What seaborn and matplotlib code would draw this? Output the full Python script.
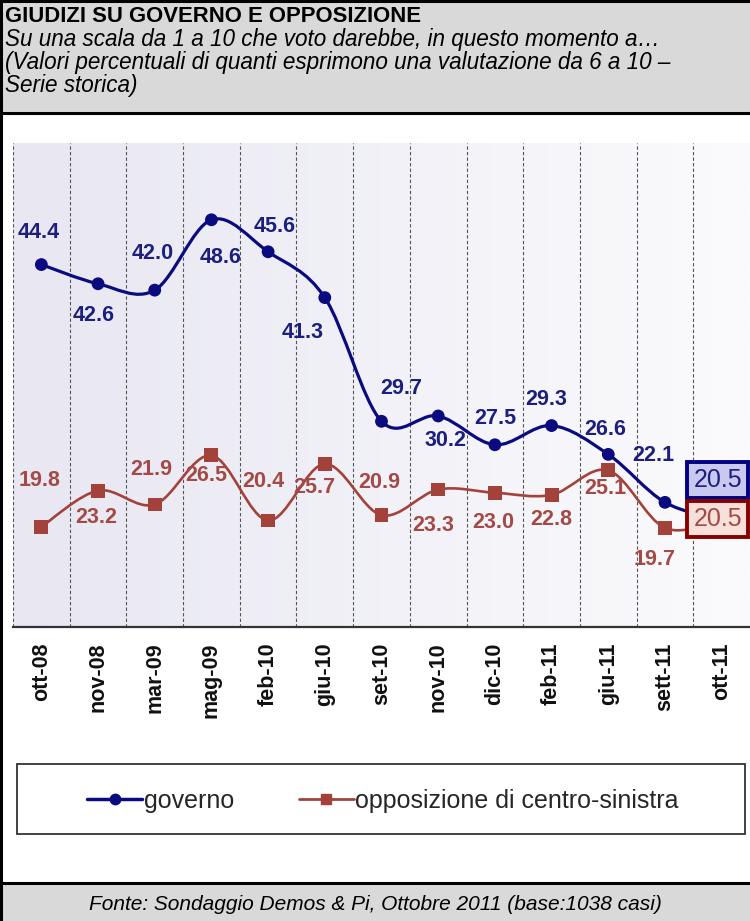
import numpy as np
import pandas as pd
import matplotlib
matplotlib.use("Agg")
import matplotlib.pyplot as plt
import seaborn as sns
from matplotlib.path import Path
from matplotlib.patches import PathPatch, Rectangle
from matplotlib.lines import Line2D
from matplotlib.colors import LinearSegmentedColormap

# ---------------- data ----------------
mesi = ['ott-08', 'nov-08', 'mar-09', 'mag-09', 'feb-10', 'giu-10', 'set-10',
        'nov-10', 'dic-10', 'feb-11', 'giu-11', 'sett-11', 'ott-11']
governo = [44.4, 42.6, 42.0, 48.6, 45.6, 41.3, 29.7, 30.2, 27.5, 29.3, 26.6, 22.1, 20.5]
opposizione = [19.8, 23.2, 21.9, 26.5, 20.4, 25.7, 20.9, 23.3, 23.0, 22.8, 25.1, 19.7, 20.5]
serie = ['governo', 'opposizione di centro-sinistra']

titolo = 'GIUDIZI SU GOVERNO E OPPOSIZIONE'
sottotitolo = ['Su una scala da 1 a 10 che voto darebbe, in questo momento a\u2026',
               '(Valori percentuali di quanti esprimono una valutazione da 6 a 10 \u2013',
               'Serie storica)']
fonte = 'Fonte: Sondaggio Demos & Pi, Ottobre 2011 (base:1038 casi)'

# label offsets in pixels (dx right, dy down) -- layout only
off_gov = [(-3, -32), (-4, 32), (-2, -37), (9, 38), (7, -25), (-22, 35), (20, -33),
           (7, 25), (0, -26), (-5, -26), (-3, -25), (-12, -47)]
off_opp = [(-2, -46), (-2, 27), (-3, -35), (-5, 20), (-5, -39), (-10, 24), (-2, -33),
           (-5, 36), (-2, 30), (0, 25), (-3, 18), (-10, 32)]

NAVY = '#0b0b80'
NAVY_TXT = '#1c1f7c'
RED = '#a3423b'
RED_TXT = '#a34a47'

sns.set_theme(style='white')
plt.rcParams['font.family'] = ['Liberation Sans', 'DejaVu Sans']

W, H = 750, 921
fig = plt.figure(figsize=(W / 100, H / 100), dpi=100)
fig.patch.set_facecolor('white')


def fx(px):
    return px / W


def fy(py):
    return 1 - py / H


# ---------------- frame / header / footer ----------------
fig.patches.append(Rectangle((0, fy(113)), 1, 1 - fy(113), transform=fig.transFigure,
                             facecolor='#d9d9d9', edgecolor='none', zorder=0))
fig.patches.append(Rectangle((0, 0), 1, fy(883), transform=fig.transFigure,
                             facecolor='#d9d9d9', edgecolor='none', zorder=0))
for yy in (113, 883):
    fig.add_artist(Line2D([0, 1], [fy(yy), fy(yy)], transform=fig.transFigure,
                          color='black', lw=2.2))
fig.add_artist(Line2D([fx(1), fx(1)], [0, 1], transform=fig.transFigure, color='black', lw=2.2))
fig.add_artist(Line2D([0, 1], [fy(1), fy(1)], transform=fig.transFigure, color='black', lw=2.2))

# ---------------- axes ----------------
ax = fig.add_axes([fx(13), fy(627), fx(750) - fx(13), fy(143) - fy(627)])
grad = LinearSegmentedColormap.from_list('g', ['#e8e7f2', '#fbfbfd'])
ax.imshow(np.linspace(0, 1, 256)[None, :], extent=[0, 1, 0, 1], transform=ax.transAxes,
          cmap=grad, aspect='auto', zorder=0)

df = pd.DataFrame({
    'mese': mesi * 2,
    'pos': list(range(len(mesi))) * 2,
    'valore': governo + opposizione,
    'serie': [serie[0]] * len(mesi) + [serie[1]] * len(mesi),
})


def smooth_path(xs, ys):
    pts = np.column_stack([xs, ys]).astype(float)
    n = len(pts)
    verts = [pts[0]]
    codes = [Path.MOVETO]
    for i in range(n - 1):
        p0 = pts[i - 1] if i > 0 else pts[i]
        p1, p2 = pts[i], pts[i + 1]
        p3 = pts[i + 2] if i + 2 < n else pts[i + 1]
        verts += [p1 + (p2 - p0) / 6, p2 - (p3 - p1) / 6, p2]
        codes += [Path.CURVE4] * 3
    return Path(verts, codes)


for name, col, lw in ((serie[0], NAVY, 2.3), (serie[1], RED, 1.9)):
    sub = df[df.serie == name]
    ax.add_patch(PathPatch(smooth_path(sub.pos.values, sub.valore.values), fill=False,
                           edgecolor=col, lw=lw, zorder=3, capstyle='round', joinstyle='round'))

sns.scatterplot(data=df, x='pos', y='valore', hue='serie', style='serie',
                markers={serie[0]: 'o', serie[1]: 's'},
                palette={serie[0]: NAVY, serie[1]: RED},
                size='serie', sizes={serie[0]: 85, serie[1]: 100},
                linewidth=0, legend=False, ax=ax, zorder=4)

# data labels
for i, (v, (dx, dy)) in enumerate(zip(governo[:-1], off_gov)):
    ax.annotate(f'{v:.1f}', (i, v), xytext=(dx, -dy), textcoords='offset pixels',
                ha='center', va='center', fontsize=15.5, fontweight='bold', color=NAVY_TXT, zorder=5)
for i, (v, (dx, dy)) in enumerate(zip(opposizione[:-1], off_opp)):
    ax.annotate(f'{v:.1f}', (i, v), xytext=(dx, -dy), textcoords='offset pixels',
                ha='center', va='center', fontsize=15.5, fontweight='bold', color=RED_TXT, zorder=5)

# last values in boxes
last = len(mesi) - 1
ax.annotate(f'{governo[last]:.1f}', (last, governo[last]), xytext=(-4, 39),
            textcoords='offset pixels', ha='center', va='center', fontsize=18, color=NAVY_TXT,
            zorder=6, bbox=dict(boxstyle='square,pad=0.24', facecolor='#c8c8f0',
                                edgecolor='#000080', lw=2.8))
ax.annotate(f'{opposizione[last]:.1f}', (last, opposizione[last]), xytext=(-4, 0),
            textcoords='offset pixels', ha='center', va='center', fontsize=18, color=RED_TXT,
            zorder=6, bbox=dict(boxstyle='square,pad=0.24', facecolor='#f7e0d9',
                                edgecolor='#870000', lw=2.8))

ax.set_xlim(-0.5, len(mesi) - 0.5)
ax.set_ylim(10.41, 55.8)
ax.set_xticks(range(len(mesi)))
ax.set_xticklabels(mesi, rotation=90, fontweight='bold', fontsize=15.5, color='#111111')
ax.set_xticks(np.arange(-0.5, len(mesi) - 0.5, 1), minor=True)
ax.set_yticks([])
ax.tick_params(axis='x', which='both', length=0, pad=11)
ax.grid(which='minor', axis='x', color='#555555', ls=(0, (3, 2)), lw=0.8, zorder=1)
ax.set_axisbelow(True)
ax.set_xlabel('')
ax.set_ylabel('')
for s in ('left', 'right', 'top'):
    ax.spines[s].set_visible(False)
ax.spines['bottom'].set_color('#333333')
ax.spines['bottom'].set_linewidth(1.6)

# ---------------- legend ----------------
fig.patches.append(Rectangle((fx(17), fy(834)), fx(745) - fx(17), fy(764) - fy(834),
                             transform=fig.transFigure, facecolor='white',
                             edgecolor='#333333', lw=1.3, zorder=1))
handles = [Line2D([], [], color=NAVY, lw=2.5, marker='o', ms=7.5),
           Line2D([], [], color=RED, lw=2.0, marker='s', ms=7.5)]
fig.legend(handles, serie, loc='center', bbox_to_anchor=(fx(383), fy(801)), ncol=2,
           frameon=False, fontsize=18, handlelength=2.2, handletextpad=0.05,
           columnspacing=2.6)

# ---------------- texts ----------------
t_title = fig.text(fx(5), fy(22), titolo, fontweight='bold', fontsize=16,
                   ha='left', va='baseline', color='black')
t_sub = [fig.text(fx(5), fy(b), s, fontstyle='italic', fontsize=16, ha='left',
                  va='baseline', color='black')
         for s, b in zip(sottotitolo, (46, 69, 92))]
t_fonte = fig.text(0.5, fy(910), fonte, fontstyle='italic', fontsize=14,
                   ha='center', va='baseline', color='black')

fig.canvas.draw()
r = fig.canvas.get_renderer()


def fit(t, width_px):
    w = t.get_window_extent(r).width
    t.set_fontsize(t.get_fontsize() * width_px / w)


fit(t_title, 418)
fit(t_sub[1], 668)
for t in (t_sub[0], t_sub[2]):
    t.set_fontsize(t_sub[1].get_fontsize())
fit(t_fonte, 575)

fig.savefig('out.png', dpi=100)
